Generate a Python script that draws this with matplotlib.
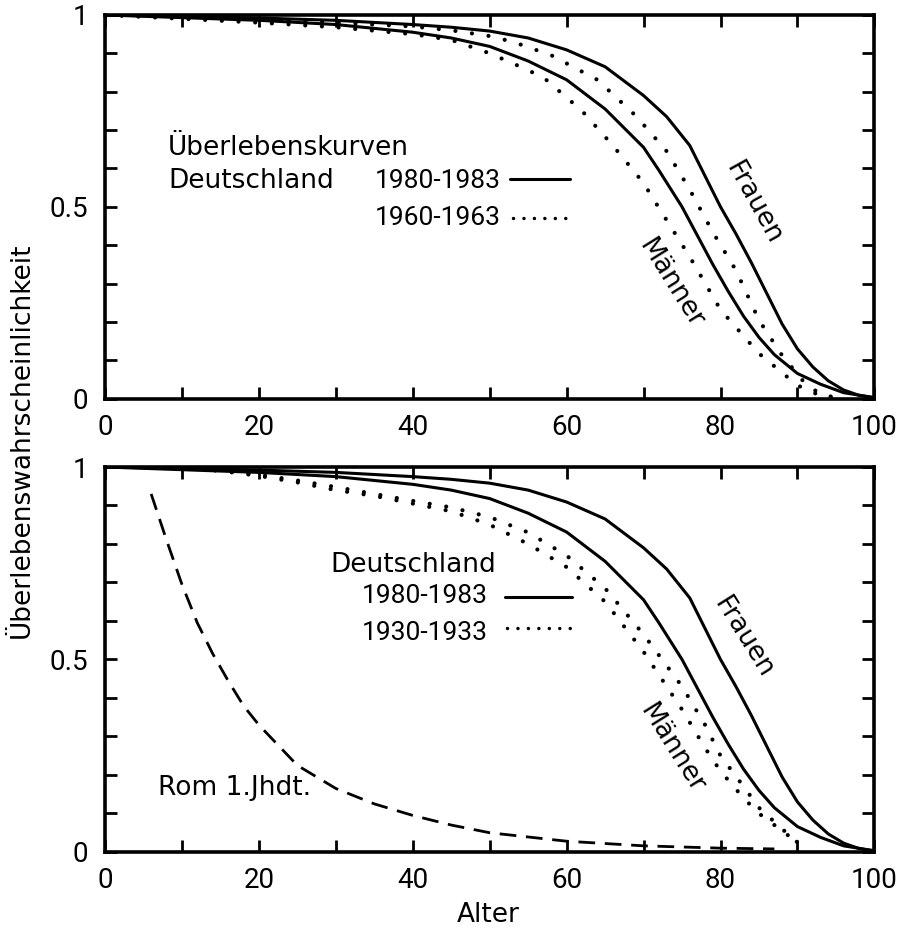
import matplotlib
matplotlib.use("Agg")
import matplotlib.pyplot as plt

# Ueberlebenskurven Deutschland 1980-1983
alter_f80 = [0, 10, 20, 30, 40, 45, 50, 55, 60, 65, 70, 73, 76, 78, 80, 82, 84, 86, 88, 90, 92, 94, 96, 98, 100]
frauen_1980 = [1.0, 0.996, 0.992, 0.986, 0.975, 0.968, 0.958, 0.94, 0.909, 0.865, 0.79, 0.735, 0.66, 0.58, 0.50,
               0.43, 0.355, 0.275, 0.195, 0.13, 0.083, 0.047, 0.023, 0.009, 0.003]
alter_m80 = [0, 10, 20, 30, 40, 45, 50, 55, 60, 65, 70, 72, 75, 77, 79, 81, 83, 85, 87, 90, 93, 96, 100]
maenner_1980 = [1.0, 0.993, 0.986, 0.975, 0.955, 0.94, 0.918, 0.88, 0.831, 0.755, 0.655, 0.595, 0.5, 0.425,
                0.35, 0.28, 0.215, 0.16, 0.115, 0.066, 0.038, 0.016, 0.003]

# 1960-1963
alter_f60 = [0, 10, 20, 30, 40, 45, 50, 53, 58, 64, 69, 73, 76, 79, 82, 85, 88, 91, 93, 95]
frauen_1960 = [1.0, 0.995, 0.99, 0.98, 0.97, 0.96, 0.945, 0.93, 0.895, 0.831, 0.737, 0.645, 0.545, 0.434,
               0.335, 0.205, 0.113, 0.04, 0.012, 0.003]
alter_m60 = [0, 10, 20, 30, 40, 45, 50, 54, 57, 62, 66, 70, 72, 76, 80, 85, 90, 93, 95]
maenner_1960 = [1.0, 0.99, 0.98, 0.968, 0.95, 0.935, 0.9, 0.865, 0.837, 0.75, 0.66, 0.562, 0.497, 0.37,
                0.232, 0.118, 0.035, 0.008, 0.0]

# 1930-1933
alter_1930 = [10, 15, 20, 25, 30, 35, 40, 45, 50, 55, 60, 65, 70, 75, 78, 80, 83, 85, 88, 90]
frauen_1930 = [1.0, 0.99, 0.98, 0.965, 0.948, 0.93, 0.912, 0.895, 0.87, 0.83, 0.77, 0.685, 0.565, 0.43, 0.33,
               0.25, 0.17, 0.115, 0.06, 0.025]
maenner_1930 = [1.0, 0.99, 0.977, 0.96, 0.94, 0.925, 0.905, 0.885, 0.85, 0.80, 0.74, 0.65, 0.52, 0.37, 0.27,
                0.21, 0.14, 0.10, 0.055, 0.025]

# Rom 1. Jahrhundert
alter_rom = [6, 8, 10, 12, 14, 16, 18, 20, 25, 30, 35, 40, 45, 50, 60, 70, 80, 87]
rom = [0.93, 0.81, 0.695, 0.595, 0.515, 0.445, 0.38, 0.33, 0.225, 0.165, 0.125, 0.095, 0.07, 0.05, 0.028,
       0.016, 0.01, 0.008]

x_ticks = list(range(0, 101, 10))
x_labels = ["0", "", "20", "", "40", "", "60", "", "80", "", "100"]
y_ticks = [i / 10 for i in range(11)]
y_labels = ["0", "", "", "", "", "0.5", "", "", "", "", "1"]

FS = 19
WORD = ['DejaVu Sans']
NUM = ['Roboto', 'DejaVu Sans']
plt.rcParams['font.family'] = NUM
solid = dict(color='black', lw=2.2, solid_capstyle='round')
dotted = dict(color='black', lw=3.0, ls=(0, (0.01, 4.0)), dash_capstyle='round')
dashed = dict(color='black', lw=2.0, ls=(0, (6, 3.5)))
legend_dots = dict(color='black', lw=2.5, ls=(0, (0.01, 3.0)), dash_capstyle='round')

fig = plt.figure(figsize=(9.02, 9.34), dpi=100)
ax1 = fig.add_axes([0.1164, 0.573, 0.853, 0.411])
ax2 = fig.add_axes([0.1164, 0.0878, 0.853, 0.4122])


def style_axes(ax):
    ax.set_xlim(0, 100)
    ax.set_ylim(0, 1)
    ax.set_xticks(x_ticks)
    ax.set_xticklabels(x_labels)
    ax.set_yticks(y_ticks)
    ax.set_yticklabels(y_labels)
    ax.tick_params(direction='in', top=True, right=True, length=8.5, width=2,
                   labelsize=FS + 1)
    ax.tick_params(axis='x', pad=11)
    ax.tick_params(axis='y', pad=12)
    for s in ax.spines.values():
        s.set_linewidth(2.6)


# oberes Diagramm
ax1.plot(alter_f80, frauen_1980, **solid)
ax1.plot(alter_m80, maenner_1980, **solid)
ax1.plot(alter_f60, frauen_1960, **dotted)
ax1.plot(alter_m60, maenner_1960, **dotted)
style_axes(ax1)

ax1.text(8.2, 0.635, "Überlebenskurven", fontsize=FS, va='baseline', family=WORD)
ax1.text(8.2, 0.55, "Deutschland", fontsize=FS, va='baseline', family=WORD)
ax1.text(35.1, 0.55, "1980-1983", fontsize=FS, va='baseline')
ax1.text(35.1, 0.453, "1960-1963", fontsize=FS, va='baseline')
ax1.plot([52.7, 60.5], [0.573, 0.573], **solid)
ax1.plot([53.0, 60.5], [0.471, 0.471], **legend_dots)
ax1.text(84.3, 0.51, "Frauen", fontsize=FS, rotation=-61, family=WORD,
         ha='center', va='center', rotation_mode='anchor')
ax1.text(73.5, 0.30, "Männer", fontsize=FS, rotation=-58, family=WORD,
         ha='center', va='center', rotation_mode='anchor')

# unteres Diagramm
ax2.plot(alter_f80, frauen_1980, **solid)
ax2.plot(alter_m80, maenner_1980, **solid)
ax2.plot(alter_1930, frauen_1930, **dotted)
ax2.plot(alter_1930, maenner_1930, **dotted)
ax2.plot(alter_rom, rom, **dashed)
style_axes(ax2)

ax2.text(29.3, 0.727, "Deutschland", fontsize=FS, va='baseline', family=WORD)
ax2.text(33.4, 0.647, "1980-1983", fontsize=FS, va='baseline')
ax2.text(33.4, 0.551, "1930-1933", fontsize=FS, va='baseline')
ax2.plot([52.0, 60.7], [0.662, 0.662], **solid)
ax2.plot([52.3, 60.7], [0.582, 0.582], **legend_dots)
ax2.text(83.0, 0.558, "Frauen", fontsize=FS, rotation=-58, family=WORD,
         ha='center', va='center', rotation_mode='anchor')
ax2.text(73.7, 0.27, "Männer", fontsize=FS, rotation=-58, family=WORD,
         ha='center', va='center', rotation_mode='anchor')
ax2.text(6.9, 0.148, "Rom 1.Jhdt.", fontsize=FS, va='baseline', family=WORD)

fig.text(0.024, 0.529, "Überlebenswahrscheinlichkeit", fontsize=FS, family=WORD,
         rotation=90, ha='center', va='center')
fig.text(0.541, 0.02, "Alter", fontsize=FS, family=WORD, ha='center', va='center')

fig.savefig("out.png", dpi=100)
